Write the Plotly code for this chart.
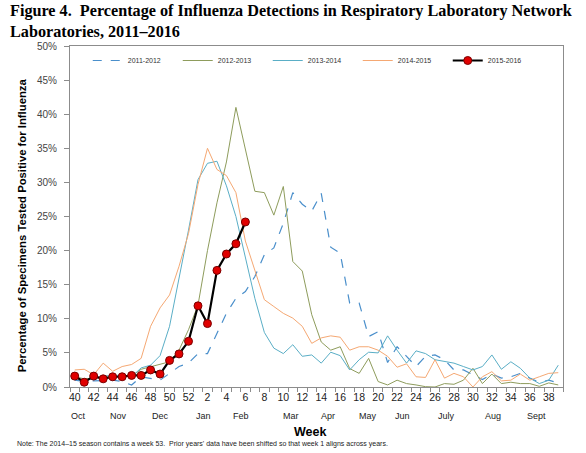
import plotly.graph_objects as go

# surveillance weeks, week 40 through week 39 of the next year
weeks = list(range(40, 53)) + list(range(1, 40))
week_ticks = [str(w) for w in weeks]

# percent positive per season, one value per week
s2011_12 = [1.0, 0.8, 0.9, 1.0, 1.0, 0.8, 0.3, 1.5, 1.2, 1.0, 2.0, 3.0, 3.5,
            4.9, 4.9, 7.9, 10.8, 13.0, 14.0, 16.2, 19.4, 20.4, 24.0, 28.5, 26.8, 25.8,
            28.4, 20.5, 19.6, 12.3, 12.3, 7.4, 8.1, 3.6, 5.9, 4.5, 3.0, 4.5, 4.7,
            4.0, 2.5, 2.5, 1.8, 1.1, 1.9, 1.3, 1.5, 2.0, 1.3, 0.7, 1.0, 0.6]
s2012_13 = [1.5, 1.2, 1.3, 1.5, 1.6, 1.6, 1.6, 2.6, 3.0, 3.3, 3.7, 5.4, 8.4,
            12.0, 20.0, 27.0, 33.0, 41.0, 34.8, 28.7, 28.5, 25.2, 29.4, 18.4, 17.0, 10.6,
            6.6, 5.4, 5.9, 2.7, 2.0, 4.2, 0.8, 0.3, 1.0, 0.5, 0.3, 0.05, 0.0,
            0.5, 0.4, 1.0, 2.75, 0.5, 1.9, 0.5, 0.7, 0.5, 0.5, 0.1, 0.6, 0.3]
s2013_14 = [1.4, 1.0, 1.2, 1.6, 1.7, 1.7, 1.5, 2.8, 3.2, 4.6, 8.9, 15.7, 23.0,
            30.4, 32.8, 33.1, 29.5, 25.0, 19.0, 13.0, 8.0, 5.7, 4.9, 6.2, 4.5, 4.7,
            3.5, 5.1, 4.6, 2.5, 4.0, 5.1, 5.0, 7.5, 5.4, 3.5, 5.3, 4.9, 4.0,
            3.7, 3.5, 3.0, 2.5, 3.0, 4.7, 2.6, 3.7, 2.75, 1.3, 0.5, 1.0, 3.2]
s2014_15 = [2.5, 2.6, 1.8, 3.5, 2.3, 3.0, 3.3, 4.2, 8.9, 11.6, 13.5, 17.7, 22.5,
            29.7, 35.0, 31.9, 31.0, 28.5, 21.4, 17.2, 12.8, 11.8, 10.8, 10.1, 8.9, 6.4,
            7.2, 7.5, 7.3, 5.4, 5.9, 5.9, 5.4, 4.5, 2.9, 3.4, 1.5, 1.4, 4.0,
            1.3, 2.0, 1.5, 0.0, 1.5, 2.25, 0.9, 1.0, 1.9, 1.0, 1.5, 2.0, 2.1]
s2015_16 = [1.6, 0.7, 1.6, 1.2, 1.5, 1.5, 1.7, 1.7, 2.5, 1.9, 3.9, 4.85, 6.7,
            11.9, 9.3, 17.1, 19.5, 21.0, 24.2]

months = ["Oct", "Nov", "Dec", "Jan", "Feb", "Mar", "Apr", "May", "Jun", "July", "Aug", "Sept"]
month_pos = [0.4, 4.6, 9.0, 13.6, 17.5, 22.8, 26.7, 30.9, 34.6, 39.2, 44.1, 48.7]

idx = list(range(len(weeks)))

fig = go.Figure()
fig.add_trace(go.Scatter(x=idx, y=s2011_12, name="2011-2012", mode="lines",
                         line=dict(color="#4A8FCB", width=1.2, dash="dash")))
fig.add_trace(go.Scatter(x=idx, y=s2012_13, name="2012-2013", mode="lines",
                         line=dict(color="#8E9C5C", width=1)))
fig.add_trace(go.Scatter(x=idx, y=s2013_14, name="2013-2014", mode="lines",
                         line=dict(color="#5AAEC6", width=1)))
fig.add_trace(go.Scatter(x=idx, y=s2014_15, name="2014-2015", mode="lines",
                         line=dict(color="#F5A873", width=1)))
fig.add_trace(go.Scatter(x=idx[:len(s2015_16)], y=s2015_16, name="2015-2016",
                         mode="lines+markers",
                         line=dict(color="black", width=2.2),
                         marker=dict(color="#E00000", size=8,
                                     line=dict(color="#7A0000", width=1))))

fig.update_xaxes(range=[-0.5, 51.5], tickmode="array", automargin=False,
                 tickvals=idx[::2], ticktext=week_ticks[::2],
                 ticks="", showline=True, linecolor="#8C8C8C", mirror=True,
                 tickfont=dict(family="Liberation Sans", size=10.5, color="#222"),
                 showgrid=False, zeroline=False,
                 minor=dict(ticks="outside", tickmode="linear", tick0=-0.5, dtick=1,
                            ticklen=4, tickcolor="#8C8C8C", showgrid=False))
fig.update_yaxes(range=[0, 50], dtick=5, ticksuffix="%", automargin=False,
                 ticks="outside", ticklen=5, tickcolor="#8C8C8C", ticklabelstandoff=5,
                 showline=True, linecolor="#8C8C8C", mirror=True,
                 showgrid=False, zeroline=False,
                 tickfont=dict(family="Liberation Sans", size=10, color="#444"))

annotations = [dict(text=m, x=p, y=-0.107, xref="x", yref="paper", showarrow=False,
                    font=dict(family="Liberation Sans", size=9, color="#222"))
               for m, p in zip(months, month_pos)]
annotations.append(dict(text="<b>Percentage of Specimens Tested Positive for Influenza</b>",
                        x=-0.097, y=0.475, xref="paper", yref="paper", showarrow=False,
                        textangle=-90, xanchor="center", yanchor="middle",
                        font=dict(family="Liberation Sans", size=11.3, color="black")))
annotations.append(dict(text="<b>Week</b>", x=0.0, xshift=240, y=-0.158,
                        xref="paper", yref="paper", showarrow=False, xanchor="center",
                        font=dict(family="Liberation Sans", size=12.5, color="black")))
annotations.append(dict(text="Note: The 2014\u201315 season contains a week 53.  "
                             "Prior years' data have been shifted so that week 1 aligns across years.",
                        x=-0.112, y=-0.184, xref="paper", yref="paper", showarrow=False,
                        xanchor="left", font=dict(family="Liberation Sans", size=7, color="#222")))
annotations.append(dict(text="<b>Figure 4.  Percentage of Influenza Detections in Respiratory Laboratory Network<br>"
                             "Laboratories, 2011\u20132016</b>",
                        x=-0.126, y=1.135, xref="paper", yref="paper", showarrow=False,
                        xanchor="left", yanchor="top", align="left",
                        font=dict(family="Liberation Serif", size=16.2, color="black")))

fig.update_layout(
    width=586, height=453,
    margin=dict(l=70, r=23, t=46, b=66, autoexpand=False),
    plot_bgcolor="white", paper_bgcolor="white",
    showlegend=True,
    legend=dict(orientation="h", x=0.036, y=1.0, xanchor="left", yanchor="top",
                entrywidth=45, entrywidthmode="pixels",
                font=dict(family="Liberation Sans", size=7, color="#333"),
                bgcolor="rgba(0,0,0,0)"),
    annotations=annotations,
)

# drop the default page margin so the figure sits at the window's corner
fig.write_html("out.html", config={"displayModeBar": False},
               post_script="document.body.style.margin='0';")
